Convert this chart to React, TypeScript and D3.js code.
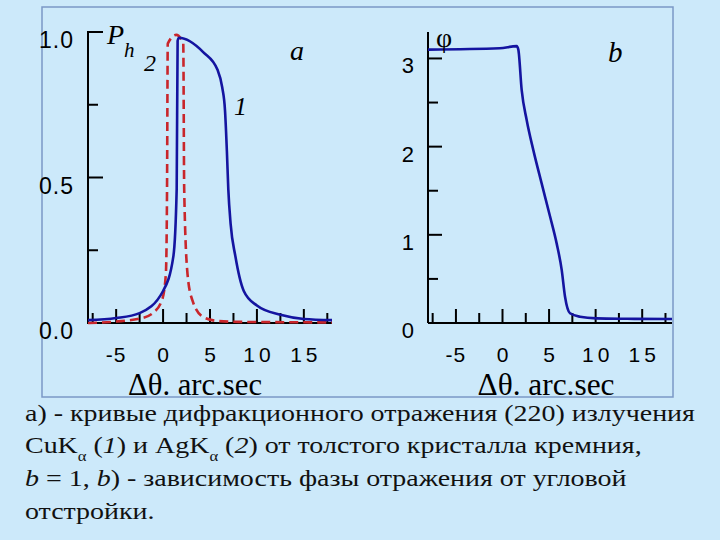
import React from "react";
import * as d3 from "d3";

// curve 1 (CuKa) and curve 2 (AgKa): [delta theta, P_h]
const curve1: [number, number][] = [
  [-8, 0.01], [-5, 0.017], [-2.5, 0.034], [0, 0.11], [1.1, 0.23], [1.45, 0.46],
  [1.55, 0.97], [1.7, 0.98], [4.3, 0.93], [5.8, 0.87], [6.3, 0.81], [6.6, 0.73],
  [6.8, 0.59], [6.95, 0.46], [7.2, 0.34], [7.7, 0.23], [8.6, 0.11], [10, 0.06],
  [12.5, 0.028], [15, 0.014], [18, 0.01],
];
const curve2: [number, number][] = [
  [-8, 0.0], [-5, 0.005], [-2.5, 0.015], [-1.1, 0.034], [-0.1, 0.08], [0.3, 0.17],
  [0.42, 0.45], [0.5, 0.96], [1.4, 0.99], [2.15, 0.96], [2.25, 0.46], [2.6, 0.17],
  [3.1, 0.08], [4.3, 0.02], [5.8, 0.007], [8, 0.004], [12, 0.003], [18, 0.002],
];
// phase of reflection: [delta theta, phi]
const phase: [number, number][] = [
  [-8, 3.1], [-0.3, 3.115], [1.52, 3.14], [1.7, 3.1], [2.06, 2.64], [2.6, 2.3],
  [3.31, 1.96], [4.21, 1.58], [5.1, 1.21], [5.82, 0.9], [6.36, 0.6], [6.71, 0.3],
  [7.25, 0.11], [8.32, 0.071], [10.1, 0.053], [13.4, 0.048], [18.2, 0.045],
];

const xMajor = [-5, 0, 5, 10, 15];
const xMinor = [-7.5, -2.5, 2.5, 7.5, 12.5, 17.5];
const yMajorA = [0, 0.5, 1.0];
const yMinorA = [0.25, 0.75];
const yMajorB = [0, 1, 2, 3];
const yMinorB = [0.5, 1.5, 2.5];

const BLUE = "#1414a0";
const RED = "#c9262b";
const SANS = "'Liberation Sans', Arial, sans-serif";
const SERIF = "'Liberation Serif', 'Times New Roman', serif";
const sans = { fontFamily: SANS };
const serif = { fontFamily: SERIF };
const serifIt = { fontFamily: SERIF, fontStyle: "italic" as const };

function XAxis({ x, y0, labelX, labelW }: {
  x: d3.ScaleLinear<number, number>; y0: number; labelX: number; labelW: number;
}) {
  const [r0, r1] = x.range();
  return (
    <g>
      <line x1={r0} x2={r1} y1={y0} y2={y0} stroke="#000" strokeWidth={2} />
      {xMajor.map((t) => (
        <line key={"M" + t} x1={x(t)} x2={x(t)} y1={y0} y2={y0 - 14} stroke="#000" strokeWidth={2} />
      ))}
      {xMinor.map((t) => (
        <line key={"m" + t} x1={x(t)} x2={x(t)} y1={y0} y2={y0 - 10} stroke="#000" strokeWidth={2} />
      ))}
      {xMajor.map((t) => (
        <text key={"l" + t} x={x(t) + (t < 0 ? 0 : 2)} y={y0 + 39} textAnchor="middle" style={sans}
          fontSize={21} letterSpacing={t < 0 ? 1 : 4}>
          {String(t)}
        </text>
      ))}
      <text x={labelX} y={395} style={serif} fontSize={31} textAnchor="middle"
        textLength={labelW} lengthAdjust="spacingAndGlyphs">
        Δθ. arc.sec
      </text>
    </g>
  );
}

export default function App() {
  const xa = d3.scaleLinear().domain([-8, 18]).range([88, 332]);
  const ya = d3.scaleLinear().domain([0, 1]).range([323, 32]);
  const xb = d3.scaleLinear().domain([-8, 18.2]).range([428, 672]);
  const yb = d3.scaleLinear().domain([0, 3.3]).range([323, 32]);

  const lineA = d3.line<[number, number]>().x((d) => xa(d[0])).y((d) => ya(d[1])).curve(d3.curveMonotoneX);
  const lineB = d3.line<[number, number]>().x((d) => xb(d[0])).y((d) => yb(d[1])).curve(d3.curveMonotoneX);

  return (
    <svg width={720} height={540} style={{ position: "absolute", left: 0, top: 0, background: "#cce9fa" }}>
      <rect x={42} y={7} width={631} height={390} fill="none" stroke="#7b98c6" strokeWidth={1.5} />

      {/* panel a */}
      <line x1={88} x2={88} y1={ya(0)} y2={ya(1)} stroke="#000" strokeWidth={2} />
      {yMajorA.map((t) => (
        <line key={t} x1={87} x2={88 + 15} y1={ya(t)} y2={ya(t)} stroke="#000" strokeWidth={2} />
      ))}
      {yMinorA.map((t) => (
        <line key={t} x1={88} x2={88 + 10} y1={ya(t)} y2={ya(t)} stroke="#000" strokeWidth={2} />
      ))}
      {yMajorA.map((t) => (
        <text key={"l" + t} x={74} y={ya(t) + 16} textAnchor="end" style={sans} fontSize={23}
          letterSpacing={1}>
          {t.toFixed(1)}
        </text>
      ))}
      <XAxis x={xa} y0={323} labelX={195} labelW={134} />
      <path d={lineA(curve2) || ""} fill="none" stroke={RED} strokeWidth={2.6} strokeDasharray="9,5" />
      <path d={lineA(curve1) || ""} fill="none" stroke={BLUE} strokeWidth={2.6} />
      <text x={107} y={44} style={serifIt} fontSize={28}>P</text>
      <text x={124} y={57} style={serifIt} fontSize={21}>h</text>
      <text x={144} y={71} style={serifIt} fontSize={24}>2</text>
      <text x={234} y={115} style={serifIt} fontSize={26}>1</text>
      <text x={290} y={60} style={serifIt} fontSize={28}>a</text>

      {/* panel b */}
      <line x1={428} x2={428} y1={yb(0)} y2={32} stroke="#000" strokeWidth={2} />
      {yMajorB.map((t) => (
        <line key={t} x1={428} x2={428 + 14} y1={yb(t)} y2={yb(t)} stroke="#000" strokeWidth={2} />
      ))}
      {yMinorB.map((t) => (
        <line key={t} x1={428} x2={428 + 10} y1={yb(t)} y2={yb(t)} stroke="#000" strokeWidth={2} />
      ))}
      {yMajorB.map((t) => (
        <text key={"l" + t} x={414} y={yb(t) + 15} textAnchor="end" style={sans} fontSize={22}>
          {String(t)}
        </text>
      ))}
      <XAxis x={xb} y0={323} labelX={546} labelW={137} />
      <path d={lineB(phase) || ""} fill="none" stroke={BLUE} strokeWidth={2.6} />
      <text x={436} y={47} style={serif} fontSize={28}>φ</text>
      <text x={608} y={62} style={serifIt} fontSize={29}>b</text>

      {/* caption, slightly stretched horizontally like the slide */}
      <g style={serif} fontSize={23.5} fill="#111" transform="translate(25,0) scale(1.19,1)">
        <text x={0} y={421}>а) - кривые дифракционного отражения (220) излучения</text>
        <text x={0} y={453}>
          CuK<tspan dy={8} fontSize={14}>α</tspan>
          <tspan dy={-8}> (</tspan><tspan style={serifIt}>1</tspan>) и AgK
          <tspan dy={8} fontSize={14}>α</tspan>
          <tspan dy={-8}> (</tspan><tspan style={serifIt}>2</tspan>) от толстого кристалла кремния,
        </text>
        <text x={0} y={486}>
          <tspan style={serifIt}>b</tspan> = 1, <tspan style={serifIt}>b</tspan>) - зависимость фазы отражения от угловой
        </text>
        <text x={0} y={519}>отстройки.</text>
      </g>
    </svg>
  );
}
